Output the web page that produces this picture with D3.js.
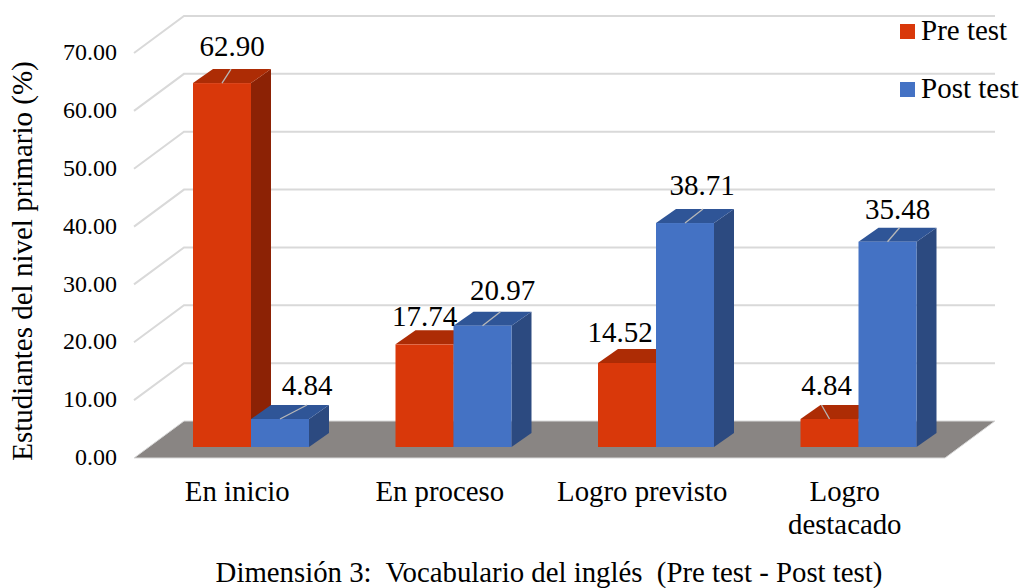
<!DOCTYPE html>
<html>
<head>
<meta charset="utf-8">
<script src="https://cdn.jsdelivr.net/npm/d3@7"></script>
<style>
html, body { margin: 0; padding: 0; background: #fff; }
text { font-family: "Liberation Serif", serif; fill: #000; white-space: pre; }
</style>
</head>
<body>
<div id="chart"></div>
<script>
const width = 1022;
const height = 588;

const categories = ["En inicio", "En proceso", "Logro previsto", "Logro destacado"];
const seriesNames = ["Pre test", "Post test"];
const preTest = [62.90, 17.74, 14.52, 4.84];
const postTest = [4.84, 20.97, 38.71, 35.48];
const yTicks = [0, 10, 20, 30, 40, 50, 60, 70];

// hand placed nudges of the data labels, same order as bars
const labelNudge = [[10, -2], [27, 1], [0, 7], [20, -1], [-7, 4], [17, -3], [-3, 1], [10, 2]];
const leaderNudge = [9, 27, null, 18, null, 18, -8, 12];

const colors = {
    "Pre test": { front: "#d9380a", side: "#8c2205", top: "#ad2c05" },
    "Post test": { front: "#4472c4", side: "#2c4a80", top: "#2f5597" }
};

const y = d3.scaleLinear().domain([0, 70]).range([458, 53]);
const x0 = d3.scaleBand().domain(categories).range([150, 960]);
const x1 = d3.scaleBand().domain(seriesNames).range([43, 159]);

// 3d offsets
const wall = { dx: 50, dy: -37 };
const depth = { dx: 20, dy: -14 };
const barShift = -11;
const xLeft = 134;
const xRight = 945;

const svg = d3.select("#chart")
    .append("svg")
    .attr("width", width)
    .attr("height", height)
    .style("display", "block");

const pts = (a) => a.map((p) => p.join(",")).join(" ");

// grid on the side and back walls
const grid = svg.append("g").attr("class", "grid");
grid.selectAll("polyline")
    .data(yTicks.filter((d) => d > 0))
    .enter().append("polyline")
    .attr("points", (d) => pts([
        [xLeft, y(d)],
        [xLeft + wall.dx, y(d) + wall.dy],
        [xRight + wall.dx, y(d) + wall.dy]
    ]))
    .attr("fill", "none")
    .attr("stroke", "#d9d9d9")
    .attr("stroke-width", 2);

// floor
svg.append("polygon")
    .attr("points", pts([
        [xLeft, y(0)],
        [xLeft + wall.dx, y(0) + wall.dy],
        [xRight + wall.dx, y(0) + wall.dy],
        [xRight, y(0)]
    ]))
    .attr("fill", "#898583")
    .attr("stroke", "#d9d9d9")
    .attr("stroke-width", 1);

// y axis labels
const yAxis = d3.axisLeft(y)
    .tickValues(yTicks)
    .tickSize(0)
    .tickPadding(0)
    .tickFormat(d3.format(".2f"));
const axisG = svg.append("g")
    .attr("transform", "translate(117,-1)")
    .call(yAxis);
axisG.select(".domain").remove();
axisG.selectAll("text")
    .style("font-family", '"Liberation Serif", serif')
    .style("font-size", "24px")
    .attr("fill", "#000");

// bars
const bars = [];
categories.forEach((c, i) => {
    bars.push({ cat: c, series: seriesNames[0], value: preTest[i] });
    bars.push({ cat: c, series: seriesNames[1], value: postTest[i] });
});
bars.forEach((b, i) => {
    b.x = x0(b.cat) + x1(b.series);
    b.w = x1.bandwidth();
    b.yTop = y(b.value) + barShift;
    b.yBase = y(0) + barShift;
    b.i = i;
});

const bar = svg.append("g").attr("class", "bars")
    .selectAll("g")
    .data(bars)
    .enter().append("g");
bar.append("polygon")
    .attr("points", (d) => pts([
        [d.x + d.w, d.yTop],
        [d.x + d.w + depth.dx, d.yTop + depth.dy],
        [d.x + d.w + depth.dx, d.yBase + depth.dy],
        [d.x + d.w, d.yBase]
    ]))
    .attr("fill", (d) => colors[d.series].side);
bar.append("polygon")
    .attr("points", (d) => pts([
        [d.x, d.yTop],
        [d.x + depth.dx, d.yTop + depth.dy],
        [d.x + d.w + depth.dx, d.yTop + depth.dy],
        [d.x + d.w, d.yTop]
    ]))
    .attr("fill", (d) => colors[d.series].top);
bar.append("rect")
    .attr("x", (d) => d.x)
    .attr("y", (d) => d.yTop)
    .attr("width", (d) => d.w)
    .attr("height", (d) => d.yBase - d.yTop)
    .attr("fill", (d) => colors[d.series].front);

// leader lines
svg.append("g").attr("class", "leaders")
    .selectAll("line")
    .data(bars.filter((d) => leaderNudge[d.i] !== null))
    .enter().append("line")
    .attr("x1", (d) => d.x + d.w / 2)
    .attr("y1", (d) => d.yTop)
    .attr("x2", (d) => d.x + d.w / 2 + leaderNudge[d.i])
    .attr("y2", (d) => d.yTop + depth.dy)
    .attr("stroke", "#b8b8b8")
    .attr("stroke-width", 1.3);

// data labels
svg.append("g").attr("class", "labels")
    .selectAll("text")
    .data(bars)
    .enter().append("text")
    .attr("x", (d) => d.x + d.w / 2 + labelNudge[d.i][0])
    .attr("y", (d) => d.yTop - 25 + labelNudge[d.i][1])
    .attr("text-anchor", "middle")
    .style("font-size", "29px")
    .text((d) => d.value.toFixed(2));

// category labels
const catLines = { "Logro destacado": ["Logro", "destacado"] };
const catG = svg.append("g").attr("class", "categories")
    .selectAll("text")
    .data(categories)
    .enter().append("text")
    .attr("x", (d) => x0(d) + x0.bandwidth() / 2 - 14)
    .attr("y", 501)
    .attr("text-anchor", "middle")
    .style("font-size", "28.8px");
catG.selectAll("tspan")
    .data((d) => (catLines[d] || [d]).map((t) => ({ t: t, cat: d })))
    .enter().append("tspan")
    .attr("x", (d) => x0(d.cat) + x0.bandwidth() / 2 - 14)
    .attr("dy", (d, i) => i ? 33 : 0)
    .text((d) => d.t);

// axis title
svg.append("text")
    .attr("transform", "translate(32,261) rotate(-90)")
    .attr("text-anchor", "middle")
    .style("font-size", "29px")
    .text("Estudiantes del nivel primario (%)");

// x title
svg.append("text")
    .attr("x", 549)
    .attr("y", 582)
    .attr("text-anchor", "middle")
    .style("font-size", "28.8px")
    .text("Dimensión 3:  Vocabulario del inglés  (Pre test - Post test)");

// legend
const legend = svg.append("g").attr("class", "legend")
    .selectAll("g")
    .data(seriesNames)
    .enter().append("g")
    .attr("transform", (d, i) => `translate(900,${24 + i * 58})`);
legend.append("rect")
    .attr("width", 15)
    .attr("height", 15)
    .attr("fill", (d) => colors[d].front);
legend.append("text")
    .attr("x", 21)
    .attr("y", 16)
    .style("font-size", "29px")
    .text((d) => d);
</script>
</body>
</html>
